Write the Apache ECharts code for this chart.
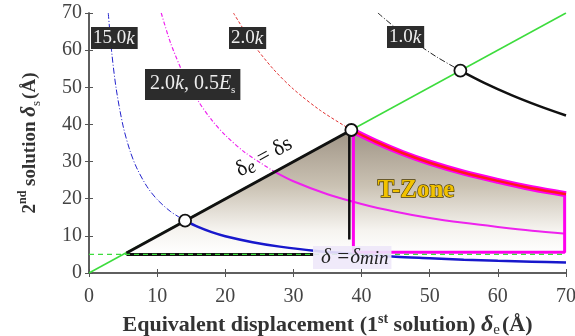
<!DOCTYPE html>
<html>
<head>
<meta charset="utf-8">
<script src="https://cdn.jsdelivr.net/npm/echarts@6/dist/echarts.min.js"></script>
<style>
  html, body { margin: 0; padding: 0; background: #fff; }
  #chart { width: 575px; height: 336px; }
</style>
</head>
<body>
<div id="chart"></div>
<script>
// 1.0k curve (dash-dot part, then solid part)
const k1DashX = [42.4, 45, 48, 51, 54.5];
const k1DashY = [70, 66, 61.9, 58.2, 54.5];
const k1SolidX = [54.5, 58, 62, 66, 70];
const k1SolidY = [54.5, 51.2, 47.9, 45, 42.4];

// 2.0k curve
const k2DashX = [21.2, 24, 27, 30, 34, 38.5];
const k2DashY = [70, 61.9, 55, 49.5, 43.7, 38.5];
const k2SolidX = [38.5, 42, 46, 50, 55, 60, 65, 70];
const k2SolidY = [38.5, 35.4, 32.3, 29.7, 27, 24.8, 22.8, 21.2];

// 2.0k, 0.5Es curve
const esDashX = [10.6, 12, 14, 16, 18, 20, 23, 27.2];
const esDashY = [70, 61.8, 53, 46.4, 41.2, 37.1, 32.3, 27.3];
const esSolidX = [27.2, 30, 35, 40, 45, 50, 55, 60, 65, 70];
const esSolidY = [27.3, 24.7, 21.2, 18.6, 16.5, 14.8, 13.5, 12.4, 11.4, 10.6];

// 15.0k curve
const k15DashX = [2.83, 3.3, 4, 5, 6, 7, 8.5, 10, 12, 14.1];
const k15DashY = [70, 60, 49.5, 39.6, 33, 28.3, 23.3, 19.8, 16.5, 14.1];
const k15SolidX = [14.1, 16, 18, 20, 24, 28, 33, 40, 45, 50, 55, 60, 65, 70];
const k15SolidY = [14.1, 12.4, 11, 9.9, 8.3, 7.1, 6, 5, 4.4, 4, 3.6, 3.3, 3.05, 2.8];

// boundaries
const diagX = [0, 70];
const diagY = [0, 70];
const minLineX = [0, 70];
const minLineY = [5, 5];
const blackDiagX = [5.5, 38.5];
const blackDiagY = [5.4, 38.5];
const blackFloorX = [5.5, 33];
const blackFloorY = [5, 5];
const blackWallX = [38.2, 38.2];
const blackWallY = [38.5, 9];
const tzoneX = [38.8, 38.8, 69.8, 69.8];
const tzoneY = [38.3, 5.6, 5.6, 21.2];

// intersections
const pointX = [14.1, 38.5, 54.5];
const pointY = [14.1, 38.5, 54.5];

// shaded triangle upper edge
const triX = [5.3, 38.5];
const triY = [5.3, 38.5];

const zip = (xs, ys) => xs.map((x, i) => [x, ys[i]]);
const serif = '"Liberation Serif", "DejaVu Serif", serif';

const chart = echarts.init(document.getElementById('chart'));

const line = (xs, ys, color, width, type, extra) => Object.assign({
  type: 'line',
  data: zip(xs, ys),
  showSymbol: false,
  smooth: 0.3,
  silent: true,
  lineStyle: { color: color, width: width, type: type || 'solid' }
}, extra || {});

const shade = () => ({
  origin: 5,
  color: new echarts.graphic.LinearGradient(0, 0, 0, 1, [
    { offset: 0, color: '#756550' },
    { offset: 0.45, color: '#b3a792' },
    { offset: 0.8, color: '#f0ede7' },
    { offset: 1, color: '#ffffff' }
  ])
});

const axisName = (size) => ({
  rich: {
    b: { fontFamily: serif, fontWeight: 'bold', fontSize: size, color: '#333', lineHeight: 26 },
    sup: { fontFamily: serif, fontWeight: 'bold', fontSize: Math.round(size * 0.62), color: '#333', verticalAlign: 'top', lineHeight: 26 },
    d: { fontFamily: serif, fontWeight: 'bold', fontStyle: 'italic', fontSize: size + 2, color: '#333', lineHeight: 26 },
    sub: { fontFamily: serif, fontSize: Math.round(size * 0.7), color: '#333', verticalAlign: 'bottom', lineHeight: 22, padding: [0, 2, 0, 0] }
  }
});

const tick = { inside: true, length: 4, lineStyle: { color: '#555' } };
const axLine = { lineStyle: { color: '#555', width: 1.5 } };

const option = {
  animation: false,
  grid: { left: 89, right: 9, top: 13, bottom: 63, containLabel: false, outerBoundsMode: 'none' },
  xAxis: [{
    type: 'value', min: 0, max: 70, interval: 10,
    axisLine: axLine, axisTick: tick, splitLine: { show: false },
    axisLabel: { color: '#444', fontFamily: serif, fontSize: 20, margin: 14 },
    name: '{b|Equivalent displacement (1}{sup|st}{b| solution) }{d|δ}{sub|e}{b|(Å)}',
    nameLocation: 'middle', nameGap: 36,
    nameTextStyle: axisName(22)
  }, {
    type: 'value', min: 0, max: 70, interval: 10, position: 'top',
    axisLine: axLine, axisTick: tick,
    axisLabel: { show: false }, splitLine: { show: false }
  }],
  yAxis: [{
    type: 'value', min: 0, max: 70, interval: 10,
    axisLine: axLine, axisTick: tick, splitLine: { show: false },
    axisLabel: { color: '#444', fontFamily: serif, fontSize: 20, margin: 7 },
    name: '{b|2}{sup|nd}{b| solution }{d|δ}{sub|s}{b|(Å)}',
    nameLocation: 'middle', nameGap: 46, nameRotate: 90,
    nameTextStyle: axisName(19)
  }, {
    type: 'value', min: 0, max: 70, interval: 10, position: 'right',
    axisLine: axLine, axisTick: tick,
    axisLabel: { show: false }, splitLine: { show: false }
  }],
  series: [
    // shaded triangle and T-zone
    line(triX, triY, 'rgba(0,0,0,0)', 0, 'solid', { smooth: false, areaStyle: shade(), z: 1 }),
    line(k2SolidX, k2SolidY, 'rgba(0,0,0,0)', 0, 'solid', { areaStyle: shade(), z: 1 }),
    line(diagX, diagY, '#3ddc3d', 1.5, 'solid', { smooth: false, z: 2 }),
    line(k1DashX, k1DashY, '#222', 1, [6, 2, 1, 2], { z: 3 }),
    line(k2DashX, k2DashY, '#e03030', 1, [3, 2], { z: 3 }),
    line(esDashX, esDashY, '#ee22ee', 1.2, [4, 2, 1, 2], { z: 3 }),
    line(k15DashX, k15DashY, '#2222cc', 1, [6, 2, 1, 2], { z: 3 }),
    line(esSolidX, esSolidY, '#ee22ee', 2, 'solid', { z: 4 }),
    line(k15SolidX, k15SolidY, '#1818cc', 2.5, 'solid', { z: 4 }),
    line(k1SolidX, k1SolidY, '#111', 2.5, 'solid', { z: 4 }),
    line(blackDiagX, blackDiagY, '#111', 3, 'solid', { smooth: false, z: 5 }),
    line(blackFloorX, blackFloorY, '#111', 3, 'solid', { smooth: false, z: 5 }),
    line(minLineX, minLineY, '#3ddc3d', 1.3, [5, 4], { smooth: false, z: 6 }),
    line(blackWallX, blackWallY, '#111', 2.5, 'solid', { smooth: false, z: 5 }),
    line(tzoneX, tzoneY, '#ff00ee', 3, 'solid', { smooth: false, z: 5 }),
    line(k2SolidX, k2SolidY, '#ff00ee', 6, 'solid', { z: 5 }),
    line(k2SolidX, k2SolidY, '#ff1a1a', 2.5, 'solid', { z: 6 }),
    {
      type: 'scatter',
      data: zip(pointX, pointY),
      symbol: 'circle',
      symbolSize: 12,
      silent: true,
      itemStyle: { color: '#fff', opacity: 1, borderColor: '#111', borderWidth: 1.8 },
      z: 10
    }
  ],
  graphic: [
    {
      type: 'text', left: 91, top: 27, z: 20,
      style: {
        text: '{n|15.0}{k|k}', backgroundColor: '#2c2c2c', padding: [2, 3, 1, 2],
        rich: { n: { fontFamily: serif, fontSize: 19, fill: '#eee' }, k: { fontFamily: serif, fontSize: 19, fontStyle: 'italic', fill: '#eee' } }
      }
    },
    {
      type: 'text', left: 229, top: 27, z: 20,
      style: {
        text: '{n|2.0}{k|k}', backgroundColor: '#2c2c2c', padding: [2, 3, 1, 2],
        rich: { n: { fontFamily: serif, fontSize: 19, fill: '#eee' }, k: { fontFamily: serif, fontSize: 19, fontStyle: 'italic', fill: '#eee' } }
      }
    },
    {
      type: 'text', left: 387, top: 26, z: 20,
      style: {
        text: '{n|1.0}{k|k}', backgroundColor: '#2c2c2c', padding: [2, 3, 1, 2],
        rich: { n: { fontFamily: serif, fontSize: 19, fill: '#eee' }, k: { fontFamily: serif, fontSize: 19, fontStyle: 'italic', fill: '#eee' } }
      }
    },
    {
      type: 'text', left: 145, top: 69, z: 20,
      style: {
        text: '{n|2.0}{k|k}{n|, 0.5}{k|E}{s|s}', backgroundColor: '#2c2c2c', padding: [3, 5, 4, 5],
        rich: {
          n: { fontFamily: serif, fontSize: 20, fill: '#eee', lineHeight: 24 },
          k: { fontFamily: serif, fontSize: 20, fontStyle: 'italic', fill: '#eee', lineHeight: 24 },
          s: { fontFamily: serif, fontSize: 11, fill: '#eee', verticalAlign: 'bottom', lineHeight: 18 }
        }
      }
    },
    {
      type: 'text', x: 264, y: 157, rotation: 0.5, z: 20,
      style: {
        text: '{d|δ}{e|e}{d| = δs}',
        align: 'center', verticalAlign: 'middle',
        rich: {
          d: { fontFamily: serif, fontSize: 22, fill: '#111', lineHeight: 26 },
          e: { fontFamily: serif, fontSize: 19, fontStyle: 'italic', fill: '#111', verticalAlign: 'bottom', lineHeight: 22 }
        }
      }
    },
    {
      type: 'text', x: 416, y: 191, z: 20,
      style: {
        text: 'T-Zone', fontFamily: serif, fontSize: 25, fontWeight: 'bold',
        fill: '#f2c200', stroke: '#4a3a00', lineWidth: 1.3,
        align: 'center', verticalAlign: 'middle'
      }
    },
    {
      type: 'text', left: 313, top: 246, z: 20,
      style: {
        text: '{a|δ =δ}{m|min}', backgroundColor: 'rgba(238,232,250,0.9)', padding: [0, 3, 1, 8],
        rich: {
          a: { fontFamily: serif, fontSize: 21, fontStyle: 'italic', fill: '#222', lineHeight: 22 },
          m: { fontFamily: serif, fontSize: 19, fontStyle: 'italic', fill: '#222', verticalAlign: 'bottom', lineHeight: 20 }
        }
      }
    }
  ]
};

chart.setOption(option);
</script>
</body>
</html>
